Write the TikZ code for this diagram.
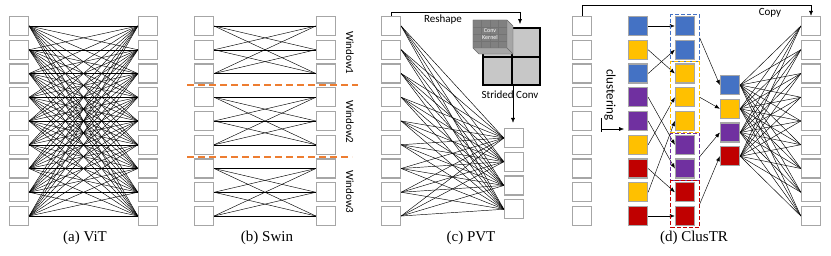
\documentclass[tikz,border=0pt]{standalone}
\usepackage{fontspec}
\setmainfont{Liberation Serif}
\newfontfamily\labelfont{Carlito}
\usetikzlibrary{positioning,arrows.meta,fit}
\definecolor{tokgray}{HTML}{A6A6A6}
\definecolor{tokblue}{HTML}{4472C4}
\definecolor{tokyellow}{HTML}{FFC000}
\definecolor{tokpurple}{HTML}{7030A0}
\definecolor{tokred}{HTML}{C00000}
\definecolor{sepcolor}{HTML}{ED7D31}
\definecolor{kerngray}{HTML}{808080}
\tikzset{
  tok/.style={draw=tokgray, line width=1.3pt, fill=white, minimum size=19pt, inner sep=0pt},
  ctok/.style={tok, fill=#1},
  link/.style={line width=0.45pt},
  tip/.style={-{Latex[length=5pt,width=4pt]}},
  sep/.style={draw=sepcolor, line width=2pt, dash pattern=on 7pt off 4pt},
  grp/.style={draw=#1, line width=1.1pt, dash pattern=on 4pt off 2pt, inner xsep=4pt, inner ysep=1.5pt},
  gridline/.style={black, line width=2pt},
  lbl/.style={font=\labelfont\fontsize{11}{13}\selectfont},
  subcap/.style={font=\fontsize{15}{17}\selectfont}
}
\begin{document}
\begin{tikzpicture}[x=1pt,y=-1pt]
    \useasboundingbox (0,0) rectangle (831,255);

    % (a) ViT: alle Token mit allen
    \foreach \i in {1,...,9} {
        \node[tok] (a-L\i) at (19,{26+(\i-1)*23.75}) {};
        \node[tok] (a-R\i) at (148,{26+(\i-1)*23.75}) {};
    }
    \foreach \i in {1,...,9}
        \foreach \j in {1,...,9}
            \draw[link] (a-L\i.east) -- (a-R\j.west);
    \node[subcap] (cap-a) at (85,238) {(a) ViT};

    % (b) Swin: Fenster mit je drei Token
    \foreach \i in {1,...,9} {
        \node[tok] (b-L\i) at (204,{26+(\i-1)*23.75}) {};
        \node[tok] (b-R\i) at (326,{26+(\i-1)*23.75}) {};
    }
    \foreach \g in {0,3,6}
        \foreach \i in {1,2,3}
            \foreach \j in {1,2,3} {
                \pgfmathtruncatemacro\p{\g+\i}
                \pgfmathtruncatemacro\q{\g+\j}
                \draw[link] (b-L\p.east) -- (b-R\q.west);
            }
    \draw[sep] (187,85) -- (358,85);
    \draw[sep] (187,157) -- (352,157);
    \node[lbl, rotate=-90] (win1) at (350,53) {Window1};
    \node[lbl, rotate=-90] (win2) at (350,122) {Window2};
    \node[lbl, rotate=-90] (win3) at (350,192) {Window3};
    \node[subcap] (cap-b) at (267,238) {(b) Swin};

    % (c) PVT: Reshape + Strided Conv
    \foreach \i in {1,...,9}
        \node[tok] (c-L\i) at (391,{26+(\i-1)*23.75}) {};
    \foreach \j in {1,...,4}
        \node[tok] (c-R\j) at (514,{138+(\j-1)*23.75}) {};
    \foreach \i in {1,...,9}
        \foreach \j in {1,...,4}
            \draw[link] (c-L\i.east) -- (c-R\j.west);
    \fill[black!22] (483,28) rectangle (540,85);
    \draw[gridline] (483,28) rectangle (540,85);
    \draw[gridline] (512,28) -- (512,85);
    \draw[gridline] (483,57) -- (540,57);
    \fill[black!35] (473,20) -- (507,20) -- (513,26) -- (513,54) -- (479,54) -- (473,48) -- cycle;
    \draw[black!60, line width=0.4pt] (473,20) -- (507,20) -- (513,26) -- (513,54) -- (479,54) -- (473,48) -- cycle;
    \fill[kerngray] (473,20) rectangle (507,48);
    \draw[black!60, line width=0.4pt] (473,20) rectangle (507,48) (507,48) -- (513,54);
    \foreach \k in {1,2,3}
        \draw[black!55, line width=0.3pt] ({473+\k*8.5},20) -- ({473+\k*8.5},48)
            (473,{20+\k*7}) -- (507,{20+\k*7});
    \node[font=\labelfont\fontsize{6}{7}\selectfont, text=white, align=center] (kern) at (490,34) {Conv\\Kernel};
    \coordinate (grid-top) at (520,24);
    \coordinate (grid-bot) at (513,86);
    \draw[link, tip] (c-L1.north) |- (520,12) -- (grid-top);
    \node[lbl] (reshape) at (443,20) {Reshape};
    \node[lbl] (strided) at (510,95) {Strided Conv};
    \draw[link, tip] (grid-bot) -- ([xshift=-1pt, yshift=5pt]c-R1.north);
    \node[subcap] (cap-c) at (471,238) {(c) PVT};

    % (d) ClusTR
    \foreach \i in {1,...,9} {
        \node[tok] (d-L\i) at (582,{26+(\i-1)*23.75}) {};
        \node[tok] (d-R\i) at (811,{26+(\i-1)*23.75}) {};
    }
    \foreach \c [count=\i] in {tokblue,tokyellow,tokblue,tokpurple,tokpurple,tokyellow,tokred,tokyellow,tokred}
        \node[ctok=\c] (d-A\i) at (638,{26+(\i-1)*23.75}) {};
    \foreach \c [count=\i] in {tokblue,tokblue,tokyellow,tokyellow,tokyellow,tokpurple,tokpurple,tokred,tokred}
        \node[ctok=\c] (d-B\i) at (685,{26+(\i-1)*23.75}) {};
    \foreach \c [count=\i] in {tokblue,tokyellow,tokpurple,tokred}
        \node[ctok=\c] (d-C\i) at (730,{85+(\i-1)*23.75}) {};
    \foreach \i/\j in {1/1,2/3,3/2,4/6,5/7,6/4,7/8,8/5,9/9}
        \draw[link, tip] (d-A\i.east) -- (d-B\j.west);
    \node[grp=tokblue, fit=(d-B1)(d-B2)] (g-blue) {};
    \node[grp=tokyellow, fit=(d-B3)(d-B5)] (g-yellow) {};
    \node[grp=tokpurple, fit=(d-B6)(d-B7)] (g-purple) {};
    \node[grp=tokred, fit=(d-B8)(d-B9)] (g-red) {};
    \draw[link, tip] (g-blue.east) -- (d-C1.west);
    \draw[link, tip] (g-yellow.east) -- (d-C2.west);
    \draw[link, tip] (g-purple.east) -- (d-C3.west);
    \draw[link, tip] (g-red.east) -- (d-C4.west);
    \foreach \i in {1,...,4}
        \foreach \j in {1,...,9}
            \draw[link] (d-C\i.east) -- (d-R\j.west);
    \draw[link, tip] (d-L1.north) |- (811,5) -- (d-R1.north);
    \node[lbl] (copy) at (770,13) {Copy};
    \node[lbl, font=\labelfont\fontsize{13}{15}\selectfont, rotate=-90] (clust) at (610,95) {clustering};
    \coordinate (clu-a) at (601,118);
    \coordinate (clu-b) at (601,132);
    \coordinate (clu-c) at (601,129);
    \coordinate (clu-d) at (624,129);
    \draw[link] (clu-a) -- (clu-b);
    \draw[link, tip] (clu-c) -- (clu-d);
    \node[subcap] (cap-d) at (694,238) {(d) ClusTR};
\end{tikzpicture}
\end{document}
